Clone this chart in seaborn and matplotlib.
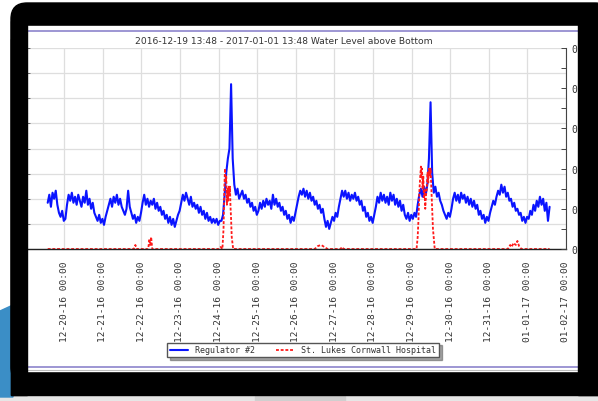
import matplotlib
matplotlib.use("Agg")
import matplotlib.pyplot as plt
import matplotlib.dates as mdates
from matplotlib.patches import FancyBboxPatch, Rectangle, Polygon
from matplotlib.ticker import MultipleLocator, FixedLocator
import pandas as pd
import seaborn as sns

# ------------------------------------------------------------
# data
# ------------------------------------------------------------
TITLE = "2016-12-19 13:48 - 2017-01-01 13:48 Water Level above Bottom"
START = "2016-12-19 13:48"
X_MIN, X_MAX = "2016-12-19 00:00", "2017-01-02 00:00"
REG_LABEL = "Regulator #2"
HOSP_LABEL = "St. Lukes Cornwall Hospital"
RIGHT_TICKS = [0.0, 0.2, 0.4, 0.6, 0.8, 1.0]
RIGHT_LABELS = ["0", "0", "0", "0", "0", "0"]

# hourly readings from START
regulator = [
    0.23, 0.27, 0.21, 0.28, 0.25, 0.29, 0.22, 0.18, 0.16, 0.19, 0.14,
    0.15, 0.22, 0.27, 0.24, 0.28, 0.23, 0.26, 0.22, 0.27, 0.24, 0.21, 0.26,
    0.23, 0.29, 0.22, 0.25, 0.20, 0.23, 0.18, 0.16, 0.14, 0.17, 0.13, 0.15,
    0.12, 0.16, 0.19, 0.22, 0.25, 0.21, 0.26, 0.23, 0.27, 0.22, 0.25, 0.21,
    0.19, 0.17, 0.20, 0.29, 0.21, 0.18, 0.15, 0.17, 0.13, 0.16, 0.14, 0.18,
    0.23, 0.27, 0.22, 0.25, 0.21, 0.24, 0.22, 0.25, 0.20, 0.23, 0.19, 0.21,
    0.17, 0.19, 0.15, 0.17, 0.13, 0.16, 0.12, 0.15, 0.11, 0.14, 0.17, 0.19,
    0.23, 0.27, 0.24, 0.28, 0.25, 0.22, 0.26, 0.21, 0.23, 0.20, 0.22, 0.18,
    0.21, 0.17, 0.19, 0.15, 0.18, 0.14, 0.16, 0.13, 0.15, 0.13, 0.15, 0.12, 0.14,
    0.14, 0.17, 0.27, 0.38, 0.45, 0.50, 0.82, 0.45, 0.32, 0.27, 0.30, 0.25, 0.27,
    0.29, 0.25, 0.27, 0.23, 0.25, 0.21, 0.23, 0.19, 0.21, 0.17,
    0.19, 0.23, 0.20, 0.24, 0.21, 0.25, 0.22, 0.24, 0.20, 0.27, 0.22, 0.25,
    0.21, 0.23, 0.19, 0.21, 0.17, 0.19, 0.15, 0.17, 0.13, 0.16, 0.14, 0.18,
    0.22, 0.26, 0.29, 0.27, 0.30, 0.26, 0.29, 0.25, 0.28, 0.24, 0.26, 0.22,
    0.24, 0.20, 0.22, 0.18, 0.20, 0.15, 0.11, 0.14, 0.10, 0.13, 0.16, 0.14,
    0.18, 0.16, 0.21, 0.25, 0.29, 0.26, 0.29, 0.25, 0.28, 0.24, 0.27, 0.25,
    0.28, 0.24, 0.26, 0.22, 0.24, 0.19, 0.21, 0.16, 0.18, 0.14, 0.16, 0.13,
    0.17, 0.21, 0.26, 0.23, 0.28, 0.24, 0.27, 0.23, 0.26, 0.22, 0.28, 0.24,
    0.27, 0.22, 0.25, 0.21, 0.24, 0.19, 0.22, 0.17, 0.15, 0.18, 0.14, 0.17,
    0.15, 0.18, 0.16, 0.22, 0.27, 0.30, 0.26, 0.31, 0.27, 0.32, 0.45, 0.73,
    0.38, 0.28, 0.31, 0.26, 0.28, 0.24, 0.22, 0.19, 0.17, 0.15, 0.18, 0.16,
    0.20, 0.25, 0.28, 0.24, 0.27, 0.23, 0.28, 0.25, 0.27, 0.23, 0.26, 0.22,
    0.25, 0.21, 0.24, 0.20, 0.22, 0.17, 0.19, 0.15, 0.17, 0.13, 0.16, 0.14,
    0.18, 0.21, 0.24, 0.22, 0.26, 0.29, 0.27, 0.32, 0.28, 0.31, 0.26, 0.28,
    0.24, 0.25, 0.21, 0.23, 0.19, 0.20, 0.17, 0.18, 0.14, 0.16, 0.13, 0.16,
    0.15, 0.19, 0.17, 0.22, 0.19, 0.24, 0.21, 0.26, 0.22, 0.25, 0.19, 0.23,
    0.14, 0.21,
]

# hospital series: hours after START and level
hospital_hours = [
    0, 53.5, 54.5, 55.5, 62.5, 63.2, 63.8, 64.3, 65.0, 106.5, 107.5,
    108.6, 109.3, 109.8, 110.2, 110.6, 111.0, 111.4, 111.8, 112.2, 112.6,
    112.9, 113.3, 113.6, 114.0, 114.4, 115.3,
    166, 168, 170, 172, 174, 182, 183, 184,
    229.3, 230.0, 230.5, 231.0, 231.5, 232.0, 232.3, 232.7, 233.0, 233.5,
    233.9, 234.3, 234.7, 235.2, 235.7, 236.1, 236.6, 237.0, 237.5, 238.0,
    238.5, 239.0, 239.5, 240.6,
    286, 287.5, 288.5, 289.5, 291, 292, 293, 294.5, 312,
]
hospital_level = [
    0, 0, 0.02, 0, 0, 0.05, 0.02, 0.06, 0, 0, 0.01,
    0, 0.10, 0.30, 0.40, 0.33, 0.36, 0.22, 0.30, 0.24, 0.31,
    0.27, 0.31, 0.22, 0.15, 0.06, 0,
    0, 0.015, 0.02, 0.01, 0, 0, 0.01, 0,
    0, 0.06, 0.15, 0.28, 0.35, 0.41, 0.36, 0.40, 0.30, 0.36,
    0.25, 0.30, 0.20, 0.27, 0.30, 0.38, 0.33, 0.40, 0.36, 0.40,
    0.30, 0.20, 0.10, 0,
    0, 0.02, 0.01, 0.03, 0.02, 0.04, 0.015, 0, 0,
]

# ------------------------------------------------------------
# style
# ------------------------------------------------------------
W, H = 598, 402
BLUE = "#0a14ff"
RED = "#ff1a1a"
TEXT = "#333333"
GRID = "#dedede"
MONO = "DejaVu Sans Mono"

sns.set_style("white")
plt.rcParams["font.family"] = ["DejaVu Sans"]

start = pd.Timestamp(START)
reg_df = pd.DataFrame({
    "time": pd.date_range(start, periods=len(regulator), freq="h"),
    "level": regulator,
})
hosp_df = pd.DataFrame({
    "time": start + pd.to_timedelta(hospital_hours, unit="h"),
    "level": hospital_level,
})

fig = plt.figure(figsize=(W / 100, H / 100), dpi=100)

# laptop body behind the chart (pixel coords)
bg = fig.add_axes([0, 0, 1, 1], zorder=-1)
bg.set_xlim(0, W)
bg.set_ylim(H, 0)
bg.axis("off")
bg.add_patch(Rectangle((0, 395), W, 7, color="#e6e6e6"))
bg.add_patch(Rectangle((255, 397), 90, 5, color="#cfcfcf"))
bg.add_patch(Polygon([(0, 312), (13, 306), (13, 398), (0, 398)], color="#3b8ec6"))
bg.add_patch(FancyBboxPatch((11, 4), 600, 380, boxstyle="round,pad=0,rounding_size=16",
                            color="black", mutation_aspect=1))
bg.add_patch(Rectangle((11, 40), 600, 356, color="black"))
bg.add_patch(Rectangle((27, 27), 551, 345, color="white"))
bg.plot([27, 578], [32, 32], color="#8c84cc", lw=1.2)
bg.plot([27, 578], [368, 368], color="#8c84cc", lw=1.2)
bg.plot([27, 578], [370.5, 370.5], color="#bdbdbd", lw=0.8)

# main chart
ax = fig.add_axes([25.5 / W, (H - 250) / H, 540.5 / W, 201 / H])
sns.lineplot(data=reg_df, x="time", y="level", ax=ax, color=BLUE, lw=1.5, label=REG_LABEL)
sns.lineplot(data=hosp_df, x="time", y="level", ax=ax, color=RED, lw=1.3,
             linestyle=(0, (1.6, 1.0)), label=HOSP_LABEL)

ax.set_xlim(pd.Timestamp(X_MIN), pd.Timestamp(X_MAX))
ax.set_ylim(0, 1)
ax.set_xlabel("")
ax.set_ylabel("")
ax.xaxis.set_major_locator(mdates.DayLocator())
ax.xaxis.set_minor_locator(mdates.HourLocator(byhour=[8, 16]))
ax.xaxis.set_major_formatter(mdates.DateFormatter("%m-%d-%y %H:%M"))
ax.yaxis.set_major_locator(MultipleLocator(0.125))
ax.tick_params(axis="x", which="major", direction="in", length=4, width=0.8, color="#444444",
               labelsize=6.8, labelrotation=90, labelcolor=TEXT, pad=8, labelfontfamily=MONO)
ax.tick_params(axis="x", which="minor", direction="in", length=2, width=0.6, color="#444444")
ax.tick_params(axis="y", which="major", direction="in", length=3, width=0.6, color="#555555",
               labelleft=False)
ax.grid(True, which="major", color=GRID, lw=0.9)
ax.set_axisbelow(True)
for side in ["top", "right"]:
    ax.spines[side].set_visible(False)
ax.spines["bottom"].set_color("#222222")
ax.spines["bottom"].set_linewidth(1.0)
ax.spines["left"].set_color("#444444")

ax2 = ax.twinx()
ax2.set_ylim(0, 1)
ax2.yaxis.set_major_locator(FixedLocator(RIGHT_TICKS))
ax2.set_yticklabels(RIGHT_LABELS)
ax2.yaxis.set_minor_locator(MultipleLocator(0.1))
ax2.tick_params(axis="y", which="both", direction="in", length=3.5, width=0.7, color="#444444",
                labelsize=7, labelcolor=TEXT, pad=4, labelfontfamily=MONO)
for side in ["top", "left", "bottom"]:
    ax2.spines[side].set_visible(False)
ax2.spines["right"].set_color("#444444")

fig.text(283.5 / W, 1 - 41 / H, TITLE, ha="center", va="center", fontsize=6.6, color=TEXT)

leg = ax.legend(loc="center", bbox_to_anchor=(303 / W, 1 - 351 / H), bbox_transform=fig.transFigure,
                ncol=2, fancybox=False, shadow=True, edgecolor="#555555", framealpha=1,
                prop={"family": MONO, "size": 6}, handlelength=2.2, columnspacing=2.5,
                borderpad=0.35, handletextpad=0.8)
for t in leg.get_texts():
    t.set_color(TEXT)

# black bezel over chart overflow
fg = fig.add_axes([0, 0, 1, 1], zorder=5)
fg.set_xlim(0, W)
fg.set_ylim(H, 0)
fg.axis("off")
fg.patch.set_alpha(0)
fg.add_patch(Rectangle((11, 22), 16, 374, color="black"))
fg.add_patch(Rectangle((578, 22), 30, 374, color="black"))

fig.savefig("out.png", dpi=100)
